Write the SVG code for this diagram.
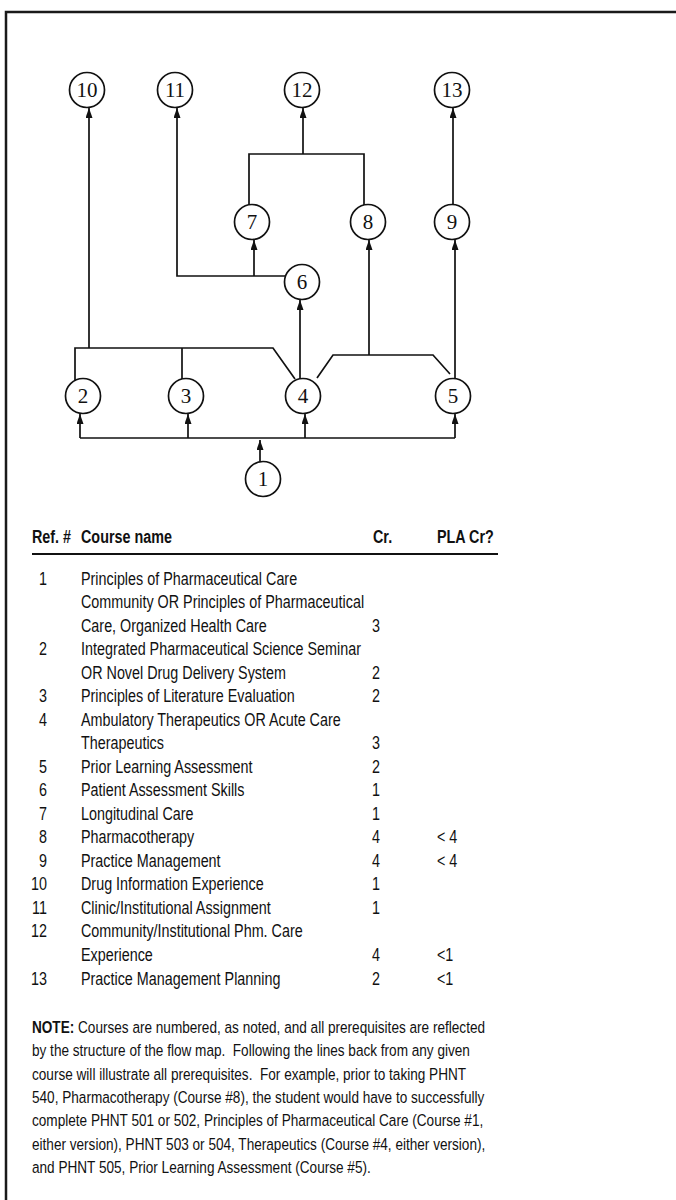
<svg xmlns="http://www.w3.org/2000/svg" width="676" height="1200" viewBox="0 0 676 1200">
<style>
.frame{fill:none;stroke:#1a1a1a;stroke-width:2.5}
.node ellipse{fill:#fff;stroke:#111;stroke-width:1.7}
.node text{font-family:"Liberation Serif","Times New Roman",serif;font-size:21px;fill:#111;text-anchor:middle}
.conn path{fill:none;stroke:#111;stroke-width:1.7}
.tbl{font-family:"Liberation Sans",Arial,sans-serif;fill:#111}
.hdr{font-weight:bold}
.num{text-anchor:end}
</style>
<defs>
<marker id="arr" markerUnits="userSpaceOnUse" markerWidth="10" markerHeight="7" refX="10" refY="3.5" orient="auto">
<path d="M0,0 L10,3.5 L0,7 z" fill="#111"/>
</marker>
</defs>
<rect width="676" height="1200" fill="#fff"/>
<path class="frame" d="M6,1200 L6,12 L676,12"/>

<g id="connectors" class="conn">
<path d="M260,462 L260,440" marker-end="url(#arr)"/>
<path d="M80,438 L455,438"/>
<path d="M80,438 L80,414" marker-end="url(#arr)"/>
<path d="M188,438 L188,414" marker-end="url(#arr)"/>
<path d="M305,438 L305,414" marker-end="url(#arr)"/>
<path d="M455,438 L455,414" marker-end="url(#arr)"/>
<path d="M75,381 L75,348 L273,348 L295,379"/>
<path d="M182,379 L182,348"/>
<path d="M89,348 L89,108" marker-end="url(#arr)"/>
<path d="M300,379 L300,300" marker-end="url(#arr)"/>
<path d="M285,276 L177,276 L177,108" marker-end="url(#arr)"/>
<path d="M254,276 L254,240" marker-end="url(#arr)"/>
<path d="M317,378 L333,355 L433,355 L450,374"/>
<path d="M369,355 L369,240" marker-end="url(#arr)"/>
<path d="M455,379 L455,240" marker-end="url(#arr)"/>
<path d="M249,205 L249,154 L364,154 L364,205"/>
<path d="M303,154 L303,108" marker-end="url(#arr)"/>
<path d="M453,205 L453,108" marker-end="url(#arr)"/>
</g>

<g id="node-10" class="node"><ellipse cx="87" cy="90" rx="17.5" ry="17.5"/><text x="87" y="97">10</text></g>
<g id="node-11" class="node"><ellipse cx="175" cy="90" rx="17.5" ry="17.5"/><text x="175" y="97">11</text></g>
<g id="node-12" class="node"><ellipse cx="302" cy="90" rx="17.5" ry="17.5"/><text x="302" y="97">12</text></g>
<g id="node-13" class="node"><ellipse cx="452" cy="90" rx="17.5" ry="17.5"/><text x="452" y="97">13</text></g>
<g id="node-7" class="node"><ellipse cx="252" cy="222" rx="17.5" ry="17.5"/><text x="252" y="229">7</text></g>
<g id="node-8" class="node"><ellipse cx="368" cy="222" rx="17.5" ry="17.5"/><text x="368" y="229">8</text></g>
<g id="node-9" class="node"><ellipse cx="452" cy="222" rx="17.5" ry="17.5"/><text x="452" y="229">9</text></g>
<g id="node-6" class="node"><ellipse cx="302" cy="282" rx="17.5" ry="17.5"/><text x="302" y="289">6</text></g>
<g id="node-2" class="node"><ellipse cx="83" cy="396" rx="17.5" ry="17.5"/><text x="83" y="403">2</text></g>
<g id="node-3" class="node"><ellipse cx="186" cy="396" rx="17.5" ry="17.5"/><text x="186" y="403">3</text></g>
<g id="node-4" class="node"><ellipse cx="303" cy="396" rx="17.5" ry="17.5"/><text x="303" y="403">4</text></g>
<g id="node-5" class="node"><ellipse cx="453" cy="396" rx="17.5" ry="17.5"/><text x="453" y="403">5</text></g>
<g id="node-1" class="node"><ellipse cx="263" cy="479" rx="17.5" ry="17.5"/><text x="263" y="486">1</text></g>

<g id="table">
<path d="M32,554 L498,554" stroke="#111" stroke-width="2"/>
<g class="tbl" transform="scale(0.82,1)" font-size="17.5">
<text class="hdr" x="39" y="543">Ref. #</text>
<text class="hdr" x="98.8" y="543">Course name</text>
<text class="hdr" x="454.9" y="543">Cr.</text>
<text class="hdr" x="532.9" y="543">PLA Cr?</text>

<text class="num" x="57.3" y="585">1</text>
<text x="98.8" y="585">Principles of Pharmaceutical Care</text>
<text x="98.8" y="608.5">Community OR Principles of Pharmaceutical</text>
<text x="98.8" y="632">Care, Organized Health Care</text>
<text x="453.7" y="632">3</text>

<text class="num" x="57.3" y="655.5">2</text>
<text x="98.8" y="655.5">Integrated Pharmaceutical Science Seminar</text>
<text x="98.8" y="679">OR Novel Drug Delivery System</text>
<text x="453.7" y="679">2</text>

<text class="num" x="57.3" y="702.5">3</text>
<text x="98.8" y="702.5">Principles of Literature Evaluation</text>
<text x="453.7" y="702.5">2</text>

<text class="num" x="57.3" y="726">4</text>
<text x="98.8" y="726">Ambulatory Therapeutics OR Acute Care</text>
<text x="98.8" y="749.5">Therapeutics</text>
<text x="453.7" y="749.5">3</text>

<text class="num" x="57.3" y="773">5</text>
<text x="98.8" y="773">Prior Learning Assessment</text>
<text x="453.7" y="773">2</text>

<text class="num" x="57.3" y="796.5">6</text>
<text x="98.8" y="796.5">Patient Assessment Skills</text>
<text x="453.7" y="796.5">1</text>

<text class="num" x="57.3" y="820">7</text>
<text x="98.8" y="820">Longitudinal Care</text>
<text x="453.7" y="820">1</text>

<text class="num" x="57.3" y="843.5">8</text>
<text x="98.8" y="843.5">Pharmacotherapy</text>
<text x="453.7" y="843.5">4</text>
<text x="532.9" y="843.5">&lt; 4</text>

<text class="num" x="57.3" y="867">9</text>
<text x="98.8" y="867">Practice Management</text>
<text x="453.7" y="867">4</text>
<text x="532.9" y="867">&lt; 4</text>

<text class="num" x="57.3" y="890.5">10</text>
<text x="98.8" y="890.5">Drug Information Experience</text>
<text x="453.7" y="890.5">1</text>

<text class="num" x="57.3" y="914">11</text>
<text x="98.8" y="914">Clinic/Institutional Assignment</text>
<text x="453.7" y="914">1</text>

<text class="num" x="57.3" y="937.5">12</text>
<text x="98.8" y="937.5">Community/Institutional Phm. Care</text>
<text x="98.8" y="961">Experience</text>
<text x="453.7" y="961">4</text>
<text x="532.9" y="961">&lt;1</text>

<text class="num" x="57.3" y="985">13</text>
<text x="98.8" y="985">Practice Management Planning</text>
<text x="453.7" y="985">2</text>
<text x="532.9" y="985">&lt;1</text>
</g>
</g>

<g id="note" class="tbl" transform="scale(0.8,1)" font-size="17">
<text x="40" y="1033"><tspan font-weight="bold">NOTE:</tspan> Courses are numbered, as noted, and all prerequisites are reflected</text>
<text x="40" y="1056.3">by the structure of the flow map.&#160; Following the lines back from any given</text>
<text x="40" y="1079.7">course will illustrate all prerequisites.&#160; For example, prior to taking PHNT</text>
<text x="40" y="1103">540, Pharmacotherapy (Course #8), the student would have to successfully</text>
<text x="40" y="1126.3">complete PHNT 501 or 502, Principles of Pharmaceutical Care (Course #1,</text>
<text x="40" y="1149.7">either version), PHNT 503 or 504, Therapeutics (Course #4, either version),</text>
<text x="40" y="1173">and PHNT 505, Prior Learning Assessment (Course #5).</text>
</g>
</svg>
